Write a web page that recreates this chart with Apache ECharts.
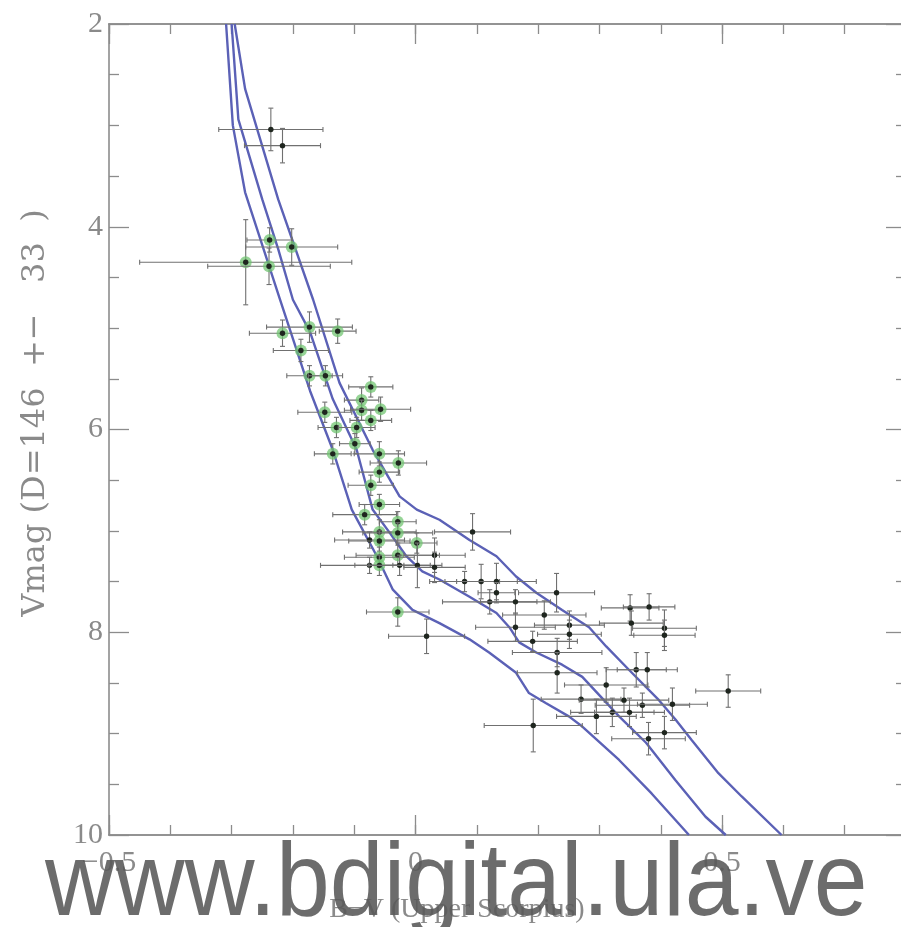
<!DOCTYPE html>
<html>
<head>
<meta charset="utf-8">
<script src="https://cdn.jsdelivr.net/npm/echarts@6/dist/echarts.min.js"></script>
<style>
  html, body { margin: 0; padding: 0; background: #ffffff; }
  #chart { width: 901px; height: 927px; }
</style>
</head>
<body>
<div id="chart"></div>
<script>
// Isochrones: B-V colour vs V magnitude
const isoLeftBV  = [-0.309, -0.298, -0.278, -0.221, -0.172, -0.135, -0.104, -0.063, -0.037, -0.005, 0.039, 0.088, 0.120, 0.164, 0.185, 0.213, 0.250, 0.272, 0.332, 0.385, 0.446];
const isoLeftV   = [2.00, 3.00, 3.66, 4.72, 5.62, 6.20, 6.79, 7.25, 7.58, 7.78, 7.91, 8.07, 8.20, 8.40, 8.60, 8.70, 8.83, 8.93, 9.26, 9.59, 10.00];

const isoMidBV   = [-0.300, -0.289, -0.250, -0.224, -0.200, -0.172, -0.135, -0.096, -0.070, -0.042, -0.015, 0.011, 0.039, 0.088, 0.132, 0.153, 0.169, 0.197, 0.239, 0.272, 0.332, 0.376, 0.424, 0.473, 0.506];
const isoMidV    = [2.00, 2.94, 3.73, 4.22, 4.72, 5.04, 5.70, 6.20, 6.79, 7.02, 7.25, 7.40, 7.48, 7.65, 7.81, 7.95, 8.10, 8.20, 8.32, 8.44, 8.83, 9.09, 9.46, 9.82, 10.00];

const isoRightBV = [-0.295, -0.278, -0.224, -0.167, -0.124, -0.070, -0.026, 0.002, 0.039, 0.088, 0.132, 0.164, 0.197, 0.239, 0.283, 0.311, 0.348, 0.397, 0.424, 0.450, 0.494, 0.532, 0.597];
const isoRightV  = [2.00, 2.64, 3.73, 4.72, 5.54, 6.20, 6.66, 6.79, 6.89, 7.09, 7.25, 7.45, 7.61, 7.78, 7.95, 8.14, 8.37, 8.67, 8.86, 9.06, 9.39, 9.62, 10.00];

// Stars: colour, magnitude, half error bars, and whether the star carries the green marker
const starBV    = [-0.236, -0.217, -0.238, -0.202, -0.277, -0.239, -0.173, -0.217, -0.127, -0.187, -0.173, -0.147,
                   -0.073, -0.088, -0.088, -0.057, -0.148, -0.073, -0.129, -0.096, -0.099, -0.135, -0.059, -0.028,
                   -0.059, -0.073, -0.059, -0.083, -0.029, -0.059, 0.002, -0.075, -0.059, -0.029, -0.029, -0.059,
                   -0.075, -0.059, -0.026, 0.031, 0.003, 0.031, -0.029, 0.093, 0.080, 0.107, 0.132, 0.121,
                   0.132, 0.163, 0.163, 0.230, 0.210, 0.251, 0.251, 0.191, 0.231, 0.018, 0.231, 0.270,
                   0.192, 0.350, 0.381, 0.352, 0.406, 0.406, 0.360, 0.378, 0.510, 0.311, 0.340, 0.370,
                   0.419, 0.295, 0.321, 0.349, 0.406, 0.380];
const starV     = [3.04, 3.20, 4.13, 4.20, 4.35, 4.39, 4.99, 5.05, 5.03, 5.22, 5.47, 5.47,
                   5.58, 5.71, 5.81, 5.80, 5.83, 5.91, 5.98, 5.98, 6.14, 6.24, 6.24, 6.33,
                   6.42, 6.55, 6.74, 6.84, 6.91, 7.01, 7.12, 7.09, 7.10, 7.02, 7.24, 7.26,
                   7.34, 7.34, 7.34, 7.24, 7.34, 7.36, 7.80, 7.01, 7.50, 7.50, 7.50, 7.70,
                   7.61, 7.70, 7.95, 7.61, 7.83, 7.93, 8.02, 8.09, 8.20, 8.04, 8.40, 8.66,
                   8.92, 7.76, 7.75, 7.91, 7.96, 8.03, 8.37, 8.37, 8.58, 8.52, 8.67, 8.72,
                   8.71, 8.83, 8.79, 8.79, 8.99, 9.05];
const starErrBV = [0.085, 0.062, 0.037, 0.075, 0.173, 0.100, 0.070, 0.054, 0.030, 0.045, 0.037, 0.028,
                   0.036, 0.028, 0.028, 0.049, 0.044, 0.034, 0.030, 0.030, 0.025, 0.030, 0.041, 0.046,
                   0.033, 0.037, 0.033, 0.052, 0.030, 0.060, 0.033, 0.057, 0.050, 0.057, 0.068, 0.057,
                   0.080, 0.040, 0.050, 0.050, 0.040, 0.050, 0.051, 0.062, 0.057, 0.059, 0.065, 0.077,
                   0.030, 0.057, 0.065, 0.062, 0.068, 0.057, 0.052, 0.073, 0.073, 0.062, 0.065, 0.065,
                   0.080, 0.047, 0.042, 0.052, 0.052, 0.050, 0.049, 0.049, 0.053, 0.068, 0.073, 0.077,
                   0.057, 0.065, 0.068, 0.057, 0.052, 0.060];
const starErrV  = [0.21, 0.17, 0.12, 0.18, 0.42, 0.18, 0.15, 0.13, 0.12, 0.11, 0.10, 0.10,
                   0.10, 0.12, 0.10, 0.12, 0.10, 0.10, 0.10, 0.10, 0.10, 0.10, 0.12, 0.12,
                   0.10, 0.10, 0.10, 0.10, 0.10, 0.12, 0.10, 0.08, 0.10, 0.10, 0.10, 0.10,
                   0.08, 0.10, 0.10, 0.17, 0.22, 0.15, 0.14, 0.18, 0.10, 0.17, 0.18, 0.12,
                   0.10, 0.12, 0.14, 0.19, 0.14, 0.14, 0.14, 0.10, 0.14, 0.17, 0.20, 0.14,
                   0.26, 0.13, 0.13, 0.12, 0.18, 0.15, 0.17, 0.17, 0.16, 0.17, 0.12, 0.12,
                   0.16, 0.17, 0.14, 0.14, 0.16, 0.16];
const starGreen = [0, 0, 1, 1, 1, 1, 1, 1, 1, 1, 1, 1,
                   1, 1, 1, 1, 1, 1, 1, 1, 1, 1, 1, 1,
                   1, 1, 1, 1, 1, 1, 1, 0, 1, 1, 1, 1,
                   0, 1, 0, 0, 0, 0, 1, 0, 0, 0, 0, 0,
                   0, 0, 0, 0, 0, 0, 0, 0, 0, 0, 0, 0,
                   0, 0, 0, 0, 0, 0, 0, 0, 0, 0, 0, 0,
                   0, 0, 0, 0, 0, 0];

// Axis ranges and labelled ticks
const bvRange   = [-0.5, 0.8];
const vmagRange = [2, 10];
const bvMajorStep = 0.5, bvMinorStep = 0.1;
const vmagMajorStep = 2;

const axisGray = '#8c8c8c';
const textGray = '#8a8a8a';
const serif = '"Liberation Serif", "DejaVu Serif", serif';
const curveColor = '#5b61b6';

const zip = (a, b) => a.map((v, i) => [v, b[i]]);
const starData = starBV.map((v, i) => [v, starV[i], starErrBV[i], starErrV[i], starGreen[i]]);

function bvAxis(position, step, tickLen, showLabels) {
  return {
    type: 'value', position: position, min: bvRange[0], max: bvRange[1], interval: step,
    axisLine: { show: true, onZero: false, lineStyle: { color: axisGray, width: 1.6 } },
    axisTick: { show: true, inside: true, length: tickLen, lineStyle: { color: axisGray, width: 1.3 } },
    axisLabel: {
      show: showLabels, showMaxLabel: false, margin: 13,
      color: textGray, fontFamily: serif, fontSize: 30,
      formatter: v => (v < 0 ? '\u2212' + Math.abs(v) : String(v))
    },
    splitLine: { show: false }
  };
}
function vmagAxis(position, showLabels) {
  return {
    type: 'value', position: position, inverse: true,
    min: vmagRange[0], max: vmagRange[1], interval: vmagMajorStep,
    axisLine: { show: true, onZero: false, lineStyle: { color: axisGray, width: 1.6 } },
    axisTick: { show: true, inside: true, length: 20, lineStyle: { color: axisGray, width: 1.3 } },
    minorTick: { show: true, splitNumber: 4, length: 10, lineStyle: { color: axisGray, width: 1.3 } },
    axisLabel: { show: showLabels, margin: 6, color: textGray, fontFamily: serif, fontSize: 30 },
    splitLine: { show: false }, minorSplitLine: { show: false }
  };
}

const chart = echarts.init(document.getElementById('chart'));
chart.setOption({
  backgroundColor: '#ffffff',
  animation: false,
  grid: { left: 109, top: 24, width: 797, height: 811, containLabel: false, outerBoundsMode: 'none' },
  xAxis: [
    bvAxis('bottom', bvMajorStep, 20, true),
    bvAxis('bottom', bvMinorStep, 10, false),
    bvAxis('top', bvMajorStep, 20, false),
    bvAxis('top', bvMinorStep, 10, false)
  ],
  yAxis: [
    vmagAxis('left', true),
    vmagAxis('right', false)
  ],
  series: [
    { type: 'line', data: zip(isoLeftBV, isoLeftV), showSymbol: false, smooth: false,
      lineStyle: { color: curveColor, width: 2.4 }, z: 3 },
    { type: 'line', data: zip(isoMidBV, isoMidV), showSymbol: false, smooth: false,
      lineStyle: { color: curveColor, width: 2.4 }, z: 3 },
    { type: 'line', data: zip(isoRightBV, isoRightV), showSymbol: false, smooth: false,
      lineStyle: { color: curveColor, width: 2.4 }, z: 3 },
    {
      type: 'custom', data: starData, z: 4,
      encode: { x: 0, y: 1 },
      renderItem: function (params, api) {
        const x = api.value(0), y = api.value(1), ex = api.value(2), ey = api.value(3), g = api.value(4);
        const c = api.coord([x, y]);
        const l = api.coord([x - ex, y]), r = api.coord([x + ex, y]);
        const t = api.coord([x, y - ey]), b = api.coord([x, y + ey]);
        const cap = 2.5;
        const st = { stroke: '#707070', lineWidth: 1.1 };
        const kids = [
          { type: 'line', shape: { x1: l[0], y1: c[1], x2: r[0], y2: c[1] }, style: st },
          { type: 'line', shape: { x1: c[0], y1: t[1], x2: c[0], y2: b[1] }, style: st },
          { type: 'line', shape: { x1: l[0], y1: c[1] - cap, x2: l[0], y2: c[1] + cap }, style: st },
          { type: 'line', shape: { x1: r[0], y1: c[1] - cap, x2: r[0], y2: c[1] + cap }, style: st },
          { type: 'line', shape: { x1: c[0] - cap, y1: t[1], x2: c[0] + cap, y2: t[1] }, style: st },
          { type: 'line', shape: { x1: c[0] - cap, y1: b[1], x2: c[0] + cap, y2: b[1] }, style: st }
        ];
        if (g) {
          kids.push({ type: 'circle', shape: { cx: c[0], cy: c[1], r: 6 },
            style: { fill: 'rgba(110,195,110,0.72)' } });
        }
        kids.push({ type: 'circle', shape: { cx: c[0], cy: c[1], r: 2.7 }, style: { fill: '#1f261f' } });
        return { type: 'group', children: kids };
      }
    }
  ],
  graphic: [
    {
      type: 'text', x: 457, y: 910, z: 10,
      style: { text: 'B\u2212V (Upper Scorpius)', font: '28px ' + serif, fill: textGray,
               align: 'center', verticalAlign: 'middle' }
    },
    {
      type: 'text', x: 36, y: 413, rotation: Math.PI / 2, z: 10,
      style: { text: 'Vmag (D=146  +\u2212   33  )', font: '32px "DejaVu Serif", serif', fill: textGray,
               align: 'center', verticalAlign: 'middle' }
    },
    {
      type: 'text', x: 45, y: 834, scaleX: 0.93, z: 20,
      style: { text: 'www.bdigital.ula.ve', font: '104px "Liberation Sans", Arial, sans-serif',
               fill: 'rgba(88,88,88,0.88)', align: 'left', verticalAlign: 'top' }
    }
  ]
});
</script>
</body>
</html>
